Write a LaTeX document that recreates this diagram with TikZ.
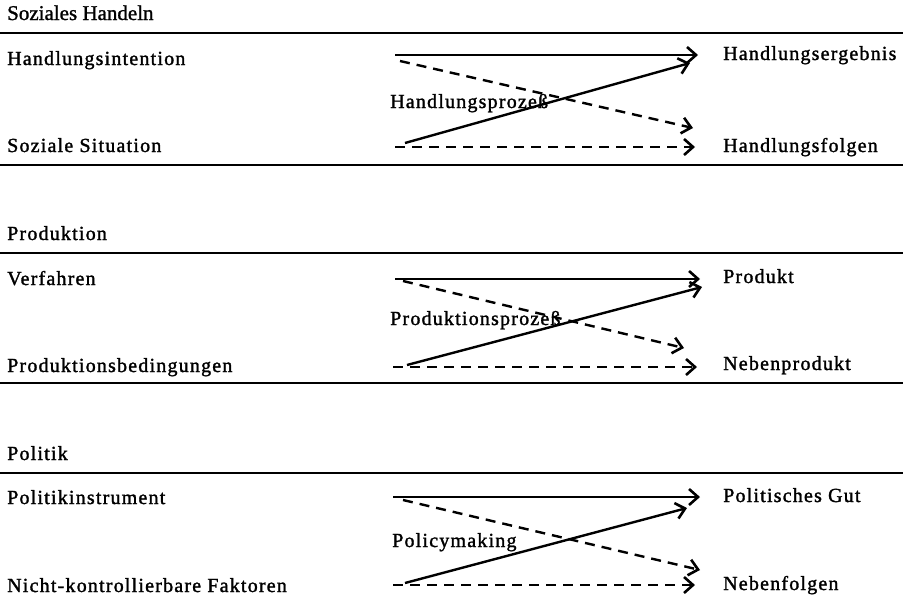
\documentclass[tikz,border=0pt]{standalone}
\usepackage{fontspec}
\setmainfont{Liberation Serif}[LetterSpace=6,FakeBold=1.5]
\newfontfamily\headfont{Liberation Serif}[FakeBold=1.2]
\usetikzlibrary{arrows.meta}
\begin{document}
\begin{tikzpicture}[x=1pt,y=-1pt,
  lbl/.style={anchor=west,inner sep=0pt,text height=14pt,text depth=4pt,font=\fontsize{20}{24}\selectfont},
  head/.style={anchor=west,inner sep=0pt,text height=14pt,text depth=4pt,font=\headfont\fontsize{21}{24}\selectfont},
  proc/.style={anchor=west,inner sep=0pt,text height=14pt,text depth=4pt,font=\fontsize{20}{24}\selectfont},
  rule/.style={line width=1.2pt},
  tip/.style={-{Straight Barb[length=9pt,width=16pt,line width=2.6pt]}},
  solidarr/.style={tip,line width=2.4pt},
  dasharr/.style={tip,line width=2.4pt,dash pattern=on 10pt off 7pt},
]
\useasboundingbox (0,0) rectangle (908,603);

% ---------- Section 1 ----------
\node[head] (h1) at (7,15) {Soziales Handeln};
\coordinate (r1a) at (0,33); \coordinate (r1b) at (903,33);
\draw[rule] (r1a) -- (r1b);
\node[lbl] (l11) at (7,60) {Handlungsintention};
\node[lbl] (l12) at (7,147) {Soziale Situation};
\node[lbl] (e11) at (723,55) {Handlungsergebnis};
\node[lbl] (e12) at (723,147) {Handlungsfolgen};
\coordinate (r2a) at (0,165); \coordinate (r2b) at (903,165);
\draw[rule] (r2a) -- (r2b);
\coordinate (s1a) at (395,55);  \coordinate (t1a) at (698,55);
\coordinate (s1b) at (400,61);  \coordinate (t1b) at (693,128);
\coordinate (s1c) at (405,143); \coordinate (t1c) at (690,63);
\coordinate (s1d) at (395,147); \coordinate (t1d) at (695,147);
\draw[solidarr] (s1a) -- (t1a);
\draw[dasharr] (s1b) -- (t1b);
\draw[solidarr] (s1c) -- (t1c);
\draw[dasharr] (s1d) -- (t1d);
\node[proc] (p1) at (390,103) {Handlungsprozeß};

% ---------- Section 2 ----------
\node[lbl] (h2) at (7,235) {Produktion};
\coordinate (r3a) at (0,253); \coordinate (r3b) at (903,253);
\draw[rule] (r3a) -- (r3b);
\node[lbl] (l21) at (7,280) {Verfahren};
\node[lbl] (l22) at (7,367) {Produktionsbedingungen};
\node[lbl] (e21) at (723,278) {Produkt};
\node[lbl] (e22) at (723,365) {Nebenprodukt};
\coordinate (r4a) at (0,383); \coordinate (r4b) at (903,383);
\draw[rule] (r4a) -- (r4b);
\coordinate (s2a) at (395,279); \coordinate (t2a) at (700,279);
\coordinate (s2b) at (403,281); \coordinate (t2b) at (684,348);
\coordinate (s2c) at (407,365); \coordinate (t2c) at (702,287);
\coordinate (s2d) at (393,367); \coordinate (t2d) at (697,367);
\draw[solidarr] (s2a) -- (t2a);
\draw[dasharr] (s2b) -- (t2b);
\draw[solidarr] (s2c) -- (t2c);
\draw[dasharr] (s2d) -- (t2d);
\node[proc] (p2) at (390,320) {Produktionsprozeß};

% ---------- Section 3 ----------
\node[lbl] (h3) at (7,455) {Politik};
\coordinate (r5a) at (0,473); \coordinate (r5b) at (903,473);
\draw[rule] (r5a) -- (r5b);
\node[lbl] (l31) at (7,499) {Politikinstrument};
\node[lbl] (l32) at (7,587) {Nicht-kontrollierbare Faktoren};
\node[lbl] (e31) at (723,497) {Politisches Gut};
\node[lbl] (e32) at (723,585) {Nebenfolgen};
\coordinate (s3a) at (393,497); \coordinate (t3a) at (700,497);
\coordinate (s3b) at (403,500); \coordinate (t3b) at (700,570);
\coordinate (s3c) at (405,583); \coordinate (t3c) at (687,508);
\coordinate (s3d) at (393,585); \coordinate (t3d) at (695,585);
\draw[solidarr] (s3a) -- (t3a);
\draw[dasharr] (s3b) -- (t3b);
\draw[solidarr] (s3c) -- (t3c);
\draw[dasharr] (s3d) -- (t3d);
\node[proc] (p3) at (392,542) {Policymaking};
\end{tikzpicture}
\end{document}
